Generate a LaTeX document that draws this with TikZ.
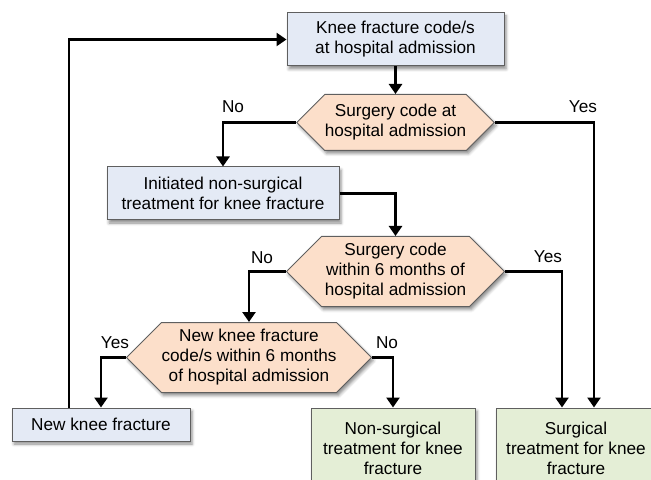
\documentclass[tikz,border=0pt]{standalone}
\usepackage{fontspec}
\setmainfont{Liberation Sans}
\usetikzlibrary{shapes.symbols,shadows.blur,arrows.meta}
\definecolor{boxblue}{RGB}{228,234,245}
\definecolor{hexpeach}{RGB}{252,223,202}
\definecolor{boxgreen}{RGB}{228,238,214}
\definecolor{edgegray}{RGB}{95,95,95}
\tikzset{
  every node/.style={font=\fontsize{8.6}{10}\selectfont, align=center},
  shadowed/.style={blur shadow={shadow xshift=1pt, shadow yshift=-1.5pt, shadow blur radius=1.5pt, shadow opacity=45}},
  stepbox/.style={draw=edgegray, line width=0.5pt, fill=boxblue, inner sep=0pt, shadowed},
  endbox/.style={stepbox, fill=boxgreen},
  askhex/.style={draw=edgegray, line width=0.5pt, fill=hexpeach, inner sep=0pt, shadowed,
    signal, signal to=west and east, signal pointer angle=90},
  flow/.style={line width=1.3pt, -{Triangle[width=6.5pt,length=5pt]}},
}
\begin{document}
\begin{tikzpicture}[x=0.5pt, y=-0.5pt]
    \useasboundingbox (0,0) rectangle (651,480);
    \node[stepbox, minimum width=108.5pt, minimum height=26.5pt] (adm) at (395.5,39.5) {Knee fracture code/s\\at hospital admission};
    \node[askhex, minimum width=93pt, minimum height=28pt] (hxa) at (395.5,122.5) {Surgery code at\\hospital admission};
    \node[stepbox, minimum width=116pt, minimum height=26.5pt] (init) at (223,193.5) {Initiated non-surgical\\treatment for knee fracture};
    \node[askhex, minimum width=109pt, minimum height=35pt] (hxb) at (395.5,271.5) {Surgery code\\within 6 months of\\hospital admission};
    \node[askhex, minimum width=116.5pt, minimum height=35pt] (hxc) at (249,357.5) {New knee fracture\\code/s within 6 months\\of hospital admission};
    \node[stepbox, minimum width=89pt, minimum height=16.5pt] (newfx) at (101,424.5) {New knee fracture};
    \node[endbox, minimum width=82pt, minimum height=40pt] (nonsurg) at (393,448) {Non-surgical\\treatment for knee\\fracture};
    \node[endbox, minimum width=80pt, minimum height=40pt] (surg) at (576,448) {Surgical\\treatment for knee\\fracture};

    \node (noa) at (233,107) {No};
    \node (yesa) at (583,107) {Yes};
    \node (nob) at (262,258) {No};
    \node (yesb) at (548,257) {Yes};
    \node (yesc) at (115,343) {Yes};
    \node (noc) at (387,343) {No};

    \draw[flow] (adm.south) -- (hxa.north);
    \draw[flow] (hxa.west) -| (init.north);
    \draw[flow] (hxa.east) -| ([xshift=9pt]surg.north);
    \draw[flow] (init.east) -| (hxb.north);
    \draw[flow] (hxb.west) -| (hxc.north);
    \draw[flow] (hxb.east) -| ([xshift=-7pt]surg.north);
    \draw[flow] (hxc.west) -| (newfx.north);
    \draw[flow] (hxc.east) -| (nonsurg.north);
    \draw[flow] ([xshift=-16pt]newfx.north) |- (adm.west);
\end{tikzpicture}
\end{document}
